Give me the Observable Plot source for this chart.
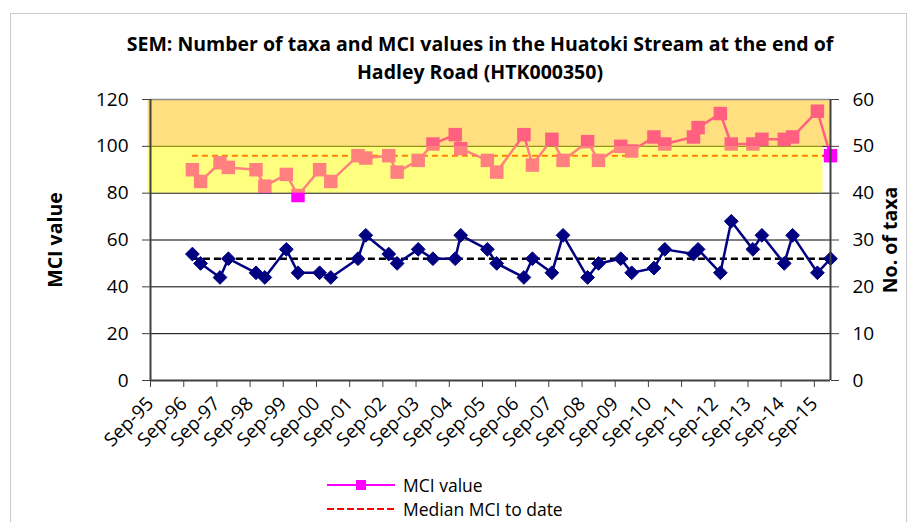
<!DOCTYPE html>
<html><head><meta charset="utf-8">
<script src="https://cdn.jsdelivr.net/npm/d3@7"></script>
<script src="https://cdn.jsdelivr.net/npm/@observablehq/plot@0.6"></script>
<style>
body{margin:0;background:#fff;font-family:"Open Sans",sans-serif;}
#wrap{position:relative;width:917px;height:522px;overflow:hidden;background:#fff;}
#frame{position:absolute;left:10px;top:13px;width:895px;height:560px;border:1.5px solid #c9c9c9;}
#title{position:absolute;left:30px;top:30px;width:900px;text-align:center;font-weight:700;font-size:19.5px;line-height:28px;color:#000;}
#plot{position:absolute;left:0;top:80px;}
#legend{position:absolute;left:327px;top:473px;font-size:17.5px;color:#000;}
.item{display:flex;align-items:center;height:24px;}
.item span{margin-left:8px;}
</style></head><body>
<div id="wrap"><div id="frame"></div><div id="title"></div><div id="plot"></div><div id="legend"></div></div>
<script>
const titleLines = ["SEM: Number of taxa and MCI values in the Huatoki Stream at the end of", "Hadley Road (HTK000350)"];
const sampleDates = ["1996-12-05","1997-03-05","1997-10-05","1998-01-05","1998-11-05","1999-02-10","1999-10-05","2000-02-10","2000-10-05","2001-02-05",
  "2001-12-01","2002-02-25","2002-11-05","2003-02-05","2003-09-25","2004-03-05","2004-11-05","2005-01-05","2005-10-25","2006-02-05",
  "2006-12-01","2007-03-05","2007-10-05","2008-02-05","2008-11-01","2009-03-01","2009-11-01","2010-03-01","2010-11-01","2011-03-01",
  "2012-01-10","2012-03-01","2012-11-01","2013-03-01","2013-10-25","2014-02-01","2014-10-05","2015-01-05","2015-10-05","2016-02-26"];
const mciValues = [90,85,93,91,90,83,88,79,90,85, 96,95,96,89,94,101,105,99,94,89, 105,92,103,94,102,94,100,98,104,101, 104,108,114,101,101,103,103,104,115,96];
const taxaValues = [27,25,22,26,23,22,28,23,23,22, 26,31,27,25,28,26,26,31,28,25, 22,26,23,31,22,25,26,23,24,28, 27,28,23,34,28,31,25,31,23,26];
const mciMedian = 96;
const taxaMedian = 26;
const xTickLabels = ["Sep-95","Sep-96","Sep-97","Sep-98","Sep-99","Sep-00","Sep-01","Sep-02","Sep-03","Sep-04","Sep-05","Sep-06","Sep-07","Sep-08","Sep-09","Sep-10","Sep-11","Sep-12","Sep-13","Sep-14","Sep-15"];
const mciTicks = [0,20,40,60,80,100,120];
const taxaTicks = [0,10,20,30,40,50,60];
const bandLow = [80, 100];
const bandHigh = [100, 120];
const bandColors = ["#FFFF00", "#FFC000"];
const bandStart = "1995-08-05";
const bandEnds = ["2015-12-05", "2016-02-26"];
const axisTitles = ["MCI value", "No. of taxa"];
const legendLabels = ["MCI value", "Median MCI to date"];
const legendColors = ["#FF00FF", "#FF0000"];

document.getElementById("title").innerHTML = titleLines.join("<br>");

const parseDate = d3.utcParse("%Y-%m-%d");
const parseTick = d3.utcParse("%b-%y");
const fmtTick = d3.utcFormat("%b-%y");
const k = mciTicks[mciTicks.length - 1] / taxaTicks[taxaTicks.length - 1];
const data = sampleDates.map((d, i) => ({date: parseDate(d), mci: mciValues[i], taxa: taxaValues[i] * k}));
const tickDates = xTickLabels.map(parseTick);
const first = data[0].date, last = data[data.length - 1].date;
const bands = bandLow.map((lo, i) => ({x1: parseDate(bandStart), x2: parseDate(bandEnds[i]), y1: lo, y2: bandHigh[i], fill: bandColors[i]}));

const chart = Plot.plot({
  width: 917, height: 380,
  marginTop: 19, marginBottom: 80, marginLeft: 150, marginRight: 87,
  style: {fontFamily: "Open Sans", color: "#000", background: "transparent", overflow: "visible"},
  x: {type: "utc", domain: [tickDates[0], last]},
  y: {domain: [0, 120]},
  marks: [
    Plot.ruleY(mciTicks.slice(1, -1), {stroke: "#000", strokeWidth: 1}),
    Plot.ruleY([mciMedian], {x1: first, x2: last, stroke: "#FF0000", strokeWidth: 2, strokeDasharray: "6,4"}),
    Plot.ruleY([taxaMedian * k], {x1: first, x2: last, stroke: "#000", strokeWidth: 2.5, strokeDasharray: "7,4"}),
    Plot.line(data, {x: "date", y: "mci", stroke: "#FF00FF", strokeWidth: 2.5}),
    Plot.dot(data, {x: "date", y: "mci", symbol: "square", fill: "#FF00FF", stroke: "none", r: 7.6}),
    Plot.line(data, {x: "date", y: "taxa", stroke: "#000080", strokeWidth: 2.5}),
    Plot.dot(data, {x: "date", y: "taxa", symbol: "diamond2", fill: "#000080", stroke: "#000080", strokeWidth: 1, r: 6.2}),
    Plot.rect(bands, {x1: "x1", x2: "x2", y1: "y1", y2: "y2", fill: "fill", fillOpacity: 0.5}),
    Plot.ruleY([mciTicks[mciTicks.length - 1]], {stroke: "#8c8c8c", strokeWidth: 1.5}),
    Plot.ruleY([0], {stroke: "#404040", strokeWidth: 2}),
    Plot.ruleX([tickDates[0], last], {stroke: "#404040", strokeWidth: 2}),
    Plot.axisY({ticks: mciTicks, tickSize: 8, tickPadding: 14, fontSize: 19, label: null, anchor: "left", stroke: "#404040"}),
    Plot.axisY({ticks: mciTicks, tickFormat: d => d / k, tickSize: 8, tickPadding: 14, fontSize: 19, label: null, anchor: "right", stroke: "#404040"}),
    Plot.axisX({ticks: tickDates, tickFormat: fmtTick, tickSize: 7, tickPadding: 13, tickRotate: -45, fontSize: 19, label: null, stroke: "#404040"}),
    Plot.text([axisTitles[0]], {text: d => d, frameAnchor: "left", textAnchor: "middle", dx: -95, rotate: -90, fontSize: 19.5, fontWeight: "bold"}),
    Plot.text([axisTitles[1]], {text: d => d, frameAnchor: "right", textAnchor: "middle", dx: 60, rotate: -90, fontSize: 19.5, fontWeight: "bold"})
  ]
});
document.getElementById("plot").appendChild(chart);

const legend = document.getElementById("legend");
legendLabels.forEach((lab, i) => {
  const row = document.createElement("div");
  row.className = "item";
  const glyph = i === 0
    ? `<svg width="68" height="14"><line x1="0" x2="68" y1="7" y2="7" stroke="${legendColors[i]}" stroke-width="2"/><rect x="29" y="2" width="10" height="10" fill="${legendColors[i]}"/></svg>`
    : `<svg width="68" height="14"><line x1="0" x2="68" y1="7" y2="7" stroke="${legendColors[i]}" stroke-width="2" stroke-dasharray="7,3"/></svg>`;
  row.innerHTML = glyph + `<span>${lab}</span>`;
  legend.appendChild(row);
});
</script>
</body></html>
